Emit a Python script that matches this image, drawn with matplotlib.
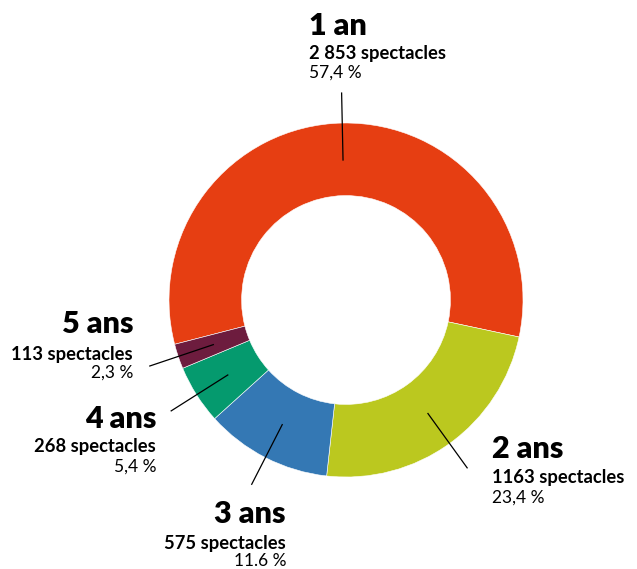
import numpy as np
import matplotlib.pyplot as plt

plt.rcParams['font.family'] = ['Lato', 'DejaVu Sans']

# data
categories = ['1 an', '2 ans', '3 ans', '4 ans', '5 ans']
counts = [2853, 1163, 575, 268, 113]
count_labels = ['2 853', '1163', '575', '268', '113']
pct_labels = ['57,4 %', '23,4 %', '11.6 %', '5,4 %', '2,3 %']
colors = ['#E63E12', '#BBC81F', '#3478B4', '#059A6E', '#6D1C3E']

# label layout in pixels (x, baselines of title / count / percent, alignment)
W, H = 637, 569
label_pos = [
    (309, (35, 59, 78), 'left'),
    (492, (458, 483, 503), 'left'),
    (286, (523, 549, 566), 'right'),
    (156, (428, 452, 472), 'right'),
    (133, (333, 360, 378), 'right'),
]

fig = plt.figure(figsize=(6.37, 5.69), dpi=100)
ax = fig.add_axes([0, 0, 1, 1])

cx, cy, R = 346, H - 300, 177
wedges, _ = ax.pie(counts, colors=colors, startangle=194.5, counterclock=False,
                   center=(cx, cy), radius=R, frame=True,
                   wedgeprops=dict(width=R * 0.41, edgecolor='white', linewidth=0.4))
ax.set_xlim(0, W)
ax.set_ylim(0, H)
ax.set_aspect('equal')
ax.axis('off')

# leader lines along each wedge's mid angle
for w in wedges:
    ang = np.deg2rad((w.theta1 + w.theta2) / 2)
    r0, r1 = 140, 207
    ax.plot([cx + r0 * np.cos(ang), cx + r1 * np.cos(ang)],
            [cy + r0 * np.sin(ang), cy + r1 * np.sin(ang)],
            color='black', lw=0.9)

for cat, cnt, pct, (x, ys, ha) in zip(categories, count_labels, pct_labels, label_pos):
    ax.text(x, H - ys[0], cat, fontsize=22, fontweight='heavy', ha=ha, va='baseline')
    ax.text(x, H - ys[1], cnt + ' spectacles', fontsize=13.2, fontweight='bold',
            ha=ha, va='baseline')
    ax.text(x, H - ys[2], pct, fontsize=12.5, ha=ha, va='baseline')

fig.savefig('out.png', dpi=100)
